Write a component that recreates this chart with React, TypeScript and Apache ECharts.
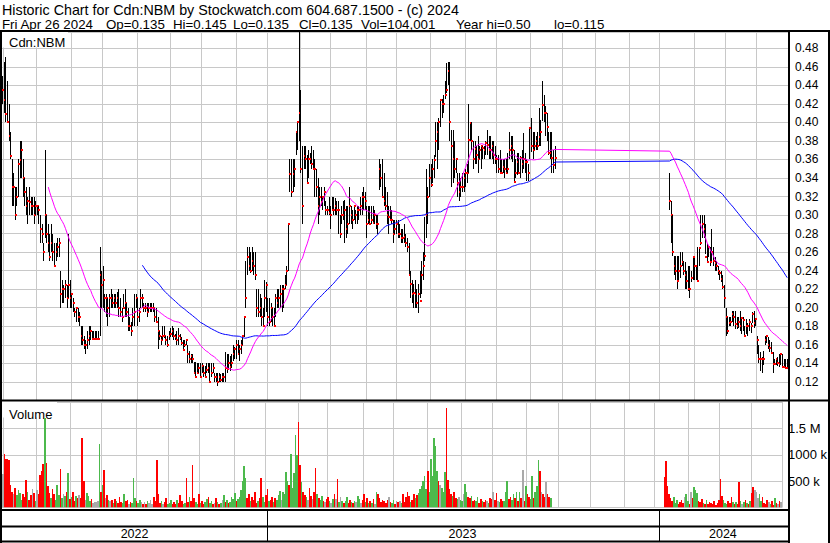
import React, { useEffect, useRef } from "react";
import * as echarts from "echarts";

const FONT = '"Liberation Sans", Arial, Helvetica, sans-serif';

// ---- calendar (trading days of the TSX-V, weekdays minus market holidays)
const FIRST_DAY = "2022-04-29";
const LAST_DAY = "2024-04-26";
const MARKET_HOLIDAYS = [
  "2022-05-23", "2022-07-01", "2022-08-01", "2022-09-05", "2022-10-10", "2022-12-26", "2022-12-27",
  "2023-01-02", "2023-02-20", "2023-04-07", "2023-05-22", "2023-07-03", "2023-08-07", "2023-09-04",
  "2023-10-09", "2023-12-25", "2023-12-26", "2024-01-01", "2024-02-19", "2024-03-29",
];

// ---- trading segment A (before the halt)
const SEGMENT_A_START = "2022-04-29";
const highA = [
  .45,.465,.47,.445,.42,.39,.36,.345,.33,.33,
  .36,.38,.38,.36,.34,.33,.32,.33,.32,.32,
  .32,.315,.31,.31,.30,.29,.27,.37,.30,.29,
  .28,.29,.28,.27,.27,.275,.275,.24,.23,.225,
  .23,.225,.28,.23,.215,.21,.20,.20,.20,.195,
  .18,.18,.17,.165,.175,.18,.18,.175,.175,.175,
  .175,.175,.265,.24,.245,.215,.215,.21,.215,.22,
  .215,.215,.215,.217,.22,.21,.20,.215,.22,.205,
  .20,.19,.185,.20,.215,.215,.21,.20,.22,.215,
  .205,.205,.205,.205,.205,.205,.205,.20,.20,.19,
  .175,.17,.18,.18,.17,.17,.175,.178,.18,.178,
  .172,.175,.178,.172,.168,.165,.165,.165,.16,.153,
  .15,.15,.141,.141,.14,.14,.14,.14,.137,.137,
  .14,.14,.14,.14,.14,.13,.13,.13,.13,.128,
  .13,.13,.152,.15,.15,.148,.15,.16,.158,.165,
  .165,.16,.165,.17,.19,.25,.265,.266,.26,.266,
  .26,.26,.22,.22,.215,.21,.20,.23,.228,.21,
  .21,.205,.20,.20,.215,.22,.22,.225,.225,.225,
  .235,.245,.29,.36,.36,.36,.36,.39,.40,.50,
  .435,.375,.375,.375,.365,.37,.367,.375,.37,.36,
  .35,.34,.33,.33,.32,.33,.315,.31,.32,.31,
  .32,.32,.318,.315,.315,.30,.31,.315,.316,.31,
  .31,.33,.31,.305,.31,.305,.31,.31,.32,.325,
  .33,.325,.31,.31,.31,.31,.31,.305,.30,.30,
  .36,.355,.36,.345,.33,.325,.31,.31,.305,.295,
  .295,.295,.295,.29,.285,.285,.29,.28,.275,.27,
  .24,.23,.226,.23,.22,.226,.24,.25,.26,.298,
  .35,.33,.355,.355,.36,.365,.40,.40,.405,.425,
  .425,.43,.445,.464,.465,.465,.392,.392,.38,.36,
  .345,.345,.34,.345,.345,.35,.355,.42,.40,.40,
  .38,.38,.375,.385,.375,.375,.375,.375,.38,.392,
  .385,.385,.38,.38,.375,.365,.365,.37,.36,.36,
  .36,.36,.367,.39,.385,.385,.37,.36,.367,.367,
  .364,.37,.388,.367,.36,.355,.395,.405,.39,.39,
  .385,.39,.415,.403,.445,.43,.418,.41,.39,.39,
  .39,.37,.375,
];
const lowA = [
  .42,.41,.40,.40,.38,.36,.31,.31,.295,.31,
  .32,.34,.34,.32,.31,.30,.29,.30,.30,.30,
  .29,.30,.30,.29,.27,.27,.25,.275,.27,.26,
  .25,.26,.25,.245,.25,.255,.255,.20,.205,.205,
  .21,.20,.21,.20,.20,.195,.19,.185,.185,.18,
  .16,.16,.155,.15,.155,.16,.165,.165,.165,.165,
  .165,.165,.17,.20,.20,.195,.19,.18,.19,.20,
  .20,.20,.20,.20,.19,.19,.185,.20,.19,.19,
  .175,.175,.17,.18,.18,.20,.18,.185,.20,.20,
  .195,.195,.19,.195,.195,.195,.195,.185,.184,.155,
  .165,.16,.165,.167,.16,.158,.165,.168,.168,.165,
  .165,.16,.16,.165,.16,.154,.158,.16,.14,.14,
  .14,.14,.128,.125,.13,.13,.125,.13,.125,.125,
  .13,.13,.12,.125,.13,.12,.12,.115,.12,.12,
  .12,.12,.12,.13,.135,.132,.135,.143,.145,.145,
  .15,.143,.15,.16,.168,.20,.235,.24,.238,.24,
  .235,.23,.19,.19,.19,.18,.18,.19,.195,.18,
  .18,.185,.18,.18,.19,.20,.20,.20,.195,.20,
  .22,.225,.24,.325,.32,.325,.33,.365,.37,.38,
  .345,.29,.35,.35,.335,.34,.355,.35,.35,.32,
  .32,.29,.30,.31,.305,.31,.30,.30,.30,.285,
  .305,.30,.30,.30,.28,.275,.29,.295,.27,.275,
  .28,.29,.29,.285,.295,.29,.29,.295,.30,.30,
  .305,.305,.275,.29,.29,.29,.29,.29,.285,.28,
  .327,.33,.32,.31,.305,.29,.28,.295,.29,.27,
  .28,.28,.275,.275,.27,.27,.27,.265,.26,.235,
  .21,.205,.20,.20,.20,.194,.21,.215,.23,.25,
  .275,.29,.32,.33,.335,.34,.363,.35,.37,.395,
  .405,.41,.425,.432,.44,.38,.33,.335,.34,.345,
  .32,.315,.32,.325,.325,.33,.335,.345,.38,.37,
  .35,.355,.355,.345,.36,.35,.36,.36,.365,.365,
  .36,.36,.36,.355,.355,.345,.345,.345,.345,.345,
  .34,.345,.345,.36,.36,.357,.336,.34,.343,.345,
  .34,.345,.35,.345,.337,.337,.36,.368,.36,.37,
  .37,.37,.375,.375,.402,.40,.385,.38,.365,.36,
  .345,.345,.35,
];
const closeA = [
  .435,.424,.409,.40,.385,.364,.33,.33,.30,.32,
  .355,.359,.37,.34,.325,.31,.315,.314,.31,.31,
  .30,.31,.31,.305,.285,.28,.26,.30,.28,.27,
  .255,.27,.26,.245,.26,.265,.27,.215,.22,.22,
  .225,.21,.225,.21,.215,.205,.195,.20,.19,.19,
  .17,.165,.16,.16,.165,.17,.175,.166,.166,.166,
  .166,.166,.235,.225,.23,.21,.21,.20,.21,.21,
  .205,.21,.205,.21,.20,.195,.19,.20,.205,.195,
  .18,.18,.175,.19,.195,.21,.19,.195,.21,.21,
  .20,.20,.195,.20,.20,.20,.20,.19,.185,.175,
  .17,.165,.17,.17,.165,.16,.17,.172,.175,.17,
  .168,.165,.17,.167,.162,.154,.16,.165,.15,.145,
  .148,.145,.13,.125,.13,.135,.125,.137,.13,.125,
  .133,.135,.12,.13,.135,.125,.125,.12,.125,.122,
  .125,.125,.135,.134,.14,.136,.14,.15,.155,.16,
  .15,.155,.16,.169,.19,.21,.255,.245,.24,.25,
  .245,.235,.20,.195,.20,.19,.18,.21,.224,.19,
  .185,.20,.19,.18,.21,.205,.21,.215,.22,.22,
  .225,.24,.29,.344,.325,.344,.35,.39,.40,.41,
  .35,.31,.364,.36,.335,.36,.36,.355,.35,.35,
  .33,.31,.32,.314,.32,.325,.305,.305,.302,.30,
  .305,.305,.31,.305,.305,.28,.30,.30,.305,.285,
  .29,.31,.30,.295,.31,.30,.305,.305,.31,.32,
  .32,.315,.29,.295,.29,.295,.291,.30,.29,.29,
  .35,.34,.32,.315,.31,.30,.298,.295,.295,.28,
  .285,.29,.28,.28,.275,.275,.276,.27,.265,.235,
  .226,.215,.216,.215,.205,.215,.207,.235,.245,.256,
  .30,.32,.34,.332,.35,.359,.38,.39,.40,.424,
  .42,.42,.43,.435,.455,.40,.374,.36,.35,.36,
  .335,.325,.33,.33,.34,.345,.345,.381,.399,.38,
  .36,.371,.365,.36,.37,.375,.372,.37,.378,.376,
  .37,.37,.375,.365,.36,.36,.35,.345,.345,.352,
  .35,.345,.35,.37,.375,.37,.336,.345,.357,.345,
  .362,.355,.36,.357,.357,.345,.394,.375,.37,.375,
  .38,.375,.384,.39,.419,.41,.41,.395,.367,.367,
  .362,.354,.362,
];
// volume in thousands of shares
const volumeA = [
  640,1020,930,930,900,420,300,260,380,240,
  330,280,150,250,200,520,300,140,230,350,
  280,120,330,260,620,700,830,1700,850,400,
  280,180,350,250,150,420,230,730,180,260,
  220,300,660,160,200,300,120,210,180,240,
  180,1330,510,150,280,220,130,160,90,110,
  100,120,1200,300,420,710,180,230,150,120,
  140,90,160,120,80,200,110,90,260,130,
  150,70,110,90,560,190,120,80,140,100,
  60,110,70,130,90,150,60,200,120,900,
  260,80,120,60,100,180,70,90,140,60,
  110,70,150,80,240,130,60,90,570,110,
  200,120,810,180,100,70,260,90,130,60,
  100,160,200,80,120,60,90,180,110,70,
  90,150,240,110,150,90,100,200,170,280,
  120,160,200,330,500,790,560,180,250,120,
  200,150,300,90,120,180,570,200,100,240,
  360,120,150,200,100,180,140,230,320,150,
  300,250,680,500,420,1015,380,650,1383,1000,
  1630,810,480,300,240,200,150,380,220,160,
  290,750,260,180,140,220,120,100,160,200,
  130,90,170,250,160,540,110,200,130,90,
  120,200,90,150,110,80,130,100,210,160,
  90,140,250,100,180,80,120,90,160,60,
  300,250,190,100,150,120,90,140,200,110,
  80,150,70,120,100,130,90,260,110,200,
  300,220,100,150,250,180,240,280,350,400,
  500,600,350,700,300,920,600,1330,1180,700,
  500,420,380,300,680,1900,520,350,250,220,
  300,180,160,200,150,120,260,450,300,200,
  180,220,130,150,120,200,90,160,130,100,
  150,120,90,180,160,300,140,280,120,100,
  160,130,120,300,510,160,200,140,260,180,
  290,120,300,180,710,130,400,250,200,160,
  600,180,300,400,900,700,300,250,200,490,
  250,200,180,
];

// ---- trading segment B (after the halt)
const SEGMENT_B_START = "2024-01-10";
const highB = [
  .345,.315,.30,.256,.256,.256,.256,.26,.26,.25,
  .249,.24,.245,.245,.24,.255,.254,.245,.265,.266,
  .30,.30,.30,.29,.27,.266,.266,.285,.266,.255,
  .25,.245,.24,.24,.235,.225,.20,.19,.19,.19,
  .196,.196,.197,.19,.19,.197,.19,.19,.18,.188,
  .183,.188,.183,.195,.197,.188,.17,.16,.152,.147,
  .153,.17,.17,.168,.165,.163,.152,.145,.145,.147,
  .15,.15,.15,.145,.145,.145,
];
const lowB = [
  .305,.27,.256,.235,.23,.22,.23,.232,.245,.235,
  .22,.22,.218,.21,.228,.23,.23,.23,.228,.245,
  .268,.275,.275,.258,.248,.255,.245,.25,.245,.24,
  .24,.235,.23,.228,.22,.20,.17,.172,.18,.18,
  .185,.18,.177,.177,.178,.175,.172,.175,.17,.172,
  .17,.175,.173,.183,.178,.18,.15,.14,.132,.13,
  .138,.16,.162,.155,.152,.15,.13,.138,.138,.137,
  .136,.138,.136,.136,.135,.135,
];
const closeB = [
  .315,.30,.26,.245,.24,.229,.24,.245,.249,.24,
  .235,.229,.22,.22,.232,.255,.245,.245,.229,.264,
  .27,.29,.285,.255,.249,.265,.249,.26,.25,.248,
  .245,.24,.238,.231,.222,.21,.19,.175,.184,.185,
  .193,.19,.182,.18,.185,.18,.189,.187,.17,.18,
  .18,.185,.18,.193,.183,.188,.165,.145,.145,.145,
  .145,.165,.17,.16,.156,.151,.139,.139,.145,.14,
  .139,.15,.136,.136,.135,.135,
];
const volumeB = [
  590,888,410,250,180,120,200,90,150,60,
  100,140,80,200,260,130,70,300,180,390,
  330,280,120,100,160,90,60,140,70,110,
  80,60,120,50,90,150,550,220,140,90,
  60,130,80,200,110,70,100,70,485,120,
  60,100,150,90,60,130,280,390,330,300,
  180,260,120,200,90,60,150,100,70,130,
  50,180,90,60,120,104,
];

const MA_SHORT = 30;
const MA_LONG = 90;

const HEADER_LINE_1 = "Historic Chart for Cdn:NBM by Stockwatch.com 604.687.1500 - (c) 2024";
const HEADER_FIELDS = ["Fri Apr 26 2024", "Op=0.135", "Hi=0.145", "Lo=0.135", "Cl=0.135", "Vol=104,001", "Year hi=0.50", "lo=0.115"];
const HEADER_FIELD_X = [2, 106, 173, 233, 299, 361, 456, 554];

const VOLUME_LABELS: Record<number, string> = { 500: "500 k", 1000: "1000 k", 1500: "1.5 M" };

const COLORS = {
  grid: "#c8c8c8",
  bar: "#000000",
  close: "#ff0000",
  maShort: "#ff00ff",
  maLong: "#0000ff",
  up: "#4cb94c",
  down: "#ff0000",
  flat: "#a9a9a9",
};

function tradingDays(): string[] {
  const hol = new Set(MARKET_HOLIDAYS);
  const out: string[] = [];
  const d = new Date(FIRST_DAY + "T00:00:00Z");
  const end = new Date(LAST_DAY + "T00:00:00Z");
  while (d.getTime() <= end.getTime()) {
    const dow = d.getUTCDay();
    const s = d.toISOString().slice(0, 10);
    if (dow !== 0 && dow !== 6 && !hol.has(s)) out.push(s);
    d.setUTCDate(d.getUTCDate() + 1);
  }
  return out;
}

type Rec = { idx: number; h: number; l: number; c: number; v: number };

function buildOption() {
  const days = tradingDays();
  const N = days.length;
  const recs: Rec[] = [];
  const a0 = days.indexOf(SEGMENT_A_START);
  closeA.forEach((c, k) => recs.push({ idx: a0 + k, h: highA[k], l: lowA[k], c, v: volumeA[k] }));
  const b0 = days.indexOf(SEGMENT_B_START);
  closeB.forEach((c, k) => recs.push({ idx: b0 + k, h: highB[k], l: lowB[k], c, v: volumeB[k] }));

  const ma = (n: number) => {
    const out: (number | null)[] = new Array(N).fill(null);
    let sum = 0;
    recs.forEach((r, k) => {
      sum += r.c;
      if (k >= n) sum -= recs[k - n].c;
      if (k >= n - 1) out[r.idx] = +(sum / n).toFixed(4);
    });
    return out;
  };

  // direction of the day's close vs previous record: 1 up, -1 down, 0 unchanged
  const volRows = recs.map((r, k) => {
    const prev = k > 0 ? recs[k - 1].c : r.c;
    return [r.idx, r.v, r.c > prev ? 1 : r.c < prev ? -1 : 0];
  });
  const dirColor = (d: number) => (d > 0 ? COLORS.up : d < 0 ? COLORS.down : COLORS.flat);

  const monthStart = days.map((d, i) => i > 0 && d.slice(0, 7) !== days[i - 1].slice(0, 7));
  const yearStart = days.map((d, i) => i > 0 && d.slice(0, 4) !== days[i - 1].slice(0, 4));
  const yearMid = new Array(N).fill(false);
  const years = Array.from(new Set(days.map((d) => d.slice(0, 4))));
  years.forEach((y) => {
    const first = days.findIndex((d) => d.startsWith(y));
    let last = first;
    days.forEach((d, i) => { if (d.startsWith(y)) last = i; });
    yearMid[Math.floor((first + last) / 2)] = true;
  });

  const baseX = {
    type: "category",
    data: days,
    boundaryGap: true,
    axisLine: { show: false },
    axisTick: { show: false },
    axisLabel: { show: false },
  };

  const txt = (text: string, x: number, y: number, size: number, z = 20) => ({
    type: "text",
    x,
    y,
    z,
    style: { text, fontSize: size, fontFamily: FONT, fill: "#000", verticalAlign: "middle" },
  });
  const box = (x: number, y: number, w: number, h: number, fill = "#000", z = 20) => ({
    type: "rect",
    z,
    shape: { x, y, width: w, height: h },
    style: { fill },
  });

  return {
    animation: false,
    backgroundColor: "#ffffff",
    grid: [
      { left: 2, top: 32, width: 786, height: 368.4 },
      { left: 2, top: 402, width: 786, height: 105.5 },
      { left: 2, top: 511, width: 786, height: 30 },
    ],
    xAxis: [
      {
        ...baseX,
        gridIndex: 0,
        splitLine: { show: true, interval: (i: number) => monthStart[i], lineStyle: { color: COLORS.grid, width: 1 } },
      },
      {
        ...baseX,
        gridIndex: 1,
        splitLine: { show: true, interval: (i: number) => monthStart[i], lineStyle: { color: COLORS.grid, width: 1 } },
      },
      {
        ...baseX,
        gridIndex: 2,
        axisLabel: {
          show: true,
          inside: true,
          margin: 1,
          interval: (i: number) => yearMid[i],
          formatter: (v: string) => v.slice(0, 4),
          fontSize: 12.5,
          fontFamily: FONT,
          color: "#000",
        },
        splitLine: { show: true, interval: (i: number) => yearStart[i], lineStyle: { color: "#000", width: 1 } },
      },
    ],
    yAxis: [
      {
        type: "value",
        gridIndex: 0,
        position: "right",
        min: 0.1,
        max: 0.4975,
        interval: 0.02,
        axisLine: { show: false },
        axisTick: { show: false },
        axisLabel: {
          formatter: (v: number) => v.toFixed(2),
          showMinLabel: false,
          showMaxLabel: false,
          fontSize: 12,
          fontFamily: FONT,
          color: "#000",
          margin: 7,
        },
        splitLine: { lineStyle: { color: COLORS.grid, width: 1 } },
      },
      {
        type: "value",
        gridIndex: 1,
        position: "right",
        min: 0,
        max: 2008,
        interval: 500,
        axisLine: { show: false },
        axisTick: { show: false },
        axisLabel: {
          formatter: (v: number) => VOLUME_LABELS[v] ?? "",
          showMinLabel: false,
          showMaxLabel: false,
          fontSize: 13,
          fontFamily: FONT,
          color: "#000",
          margin: 6,
        },
        splitLine: { lineStyle: { color: COLORS.grid, width: 1 } },
      },
      { type: "value", gridIndex: 2, show: false },
    ],
    series: [
      {
        type: "custom",
        xAxisIndex: 0,
        yAxisIndex: 0,
        clip: true,
        z: 3,
        data: recs.map((r) => [r.idx, r.h, r.l, r.c]),
        encode: { x: 0, y: [1, 2, 3] },
        renderItem: (_p: any, api: any) => {
          const i = api.value(0);
          const top = api.coord([i, api.value(1)]);
          const bot = api.coord([i, api.value(2)]);
          const cl = api.coord([i, api.value(3)]);
          const bx = Math.round(top[0] - 0.5);
          const y0 = Math.round(top[1]);
          const y1 = Math.round(bot[1]);
          return {
            type: "group",
            children: [
              {
                type: "rect",
                shape: { x: bx, y: y0, width: 1, height: Math.max(1, y1 - y0) },
                style: { fill: COLORS.bar },
              },
              {
                type: "rect",
                shape: { x: bx, y: Math.round(cl[1]) - 1, width: 2, height: 2 },
                style: { fill: COLORS.close },
              },
            ],
          };
        },
      },
      {
        type: "line",
        xAxisIndex: 0,
        yAxisIndex: 0,
        z: 4,
        data: ma(MA_LONG),
        connectNulls: true,
        showSymbol: false,
        symbol: "none",
        silent: true,
        lineStyle: { color: COLORS.maLong, width: 1 },
      },
      {
        type: "line",
        xAxisIndex: 0,
        yAxisIndex: 0,
        z: 4,
        data: ma(MA_SHORT),
        connectNulls: true,
        showSymbol: false,
        symbol: "none",
        silent: true,
        lineStyle: { color: COLORS.maShort, width: 1 },
      },
      {
        type: "custom",
        xAxisIndex: 1,
        yAxisIndex: 1,
        clip: true,
        z: 3,
        data: volRows,
        encode: { x: 0, y: 1 },
        renderItem: (_p: any, api: any) => {
          const i = api.value(0);
          const p = api.coord([i, api.value(1)]);
          const base = api.coord([i, 0]);
          const w = api.size([1, 0])[0];
          const x0 = Math.round(p[0] - w / 2);
          const x1 = Math.round(p[0] + w / 2);
          const yt = Math.round(p[1]);
          return {
            type: "rect",
            shape: { x: x0, y: yt, width: Math.max(1, x1 - x0), height: Math.max(1, base[1] - yt) },
            style: { fill: dirColor(api.value(2)) },
          };
        },
      },
    ],
    graphic: [
      box(2, 32, 66, 15.5, "#fff", 1),
      txt("Cdn:NBM", 9, 42, 13, 1),
      box(2, 402, 55, 15.5, "#fff", 1),
      txt("Volume", 9, 414, 13, 1),
      txt(HEADER_LINE_1, 2, 9.5, 14.3),
      ...HEADER_FIELDS.map((t, k) => txt(t, HEADER_FIELD_X[k], 24.5, 13.3)),
      box(0, 30, 830, 2),
      box(0, 30, 2, 513),
      box(788, 30, 2, 513),
      box(828, 30, 2, 513),
      box(0, 399.5, 830, 2),
      box(0, 509, 790, 2),
      box(0, 525.5, 790, 2),
      box(0, 540.5, 790, 2),
    ],
  };
}

export default function App() {
  const ref = useRef<HTMLDivElement>(null);
  useEffect(() => {
    if (!ref.current) return;
    const chart = echarts.init(ref.current, undefined, { renderer: "svg" });
    chart.setOption(buildOption() as any);
    return () => chart.dispose();
  }, []);
  return (
    <div
      ref={ref}
      style={{ position: "absolute", left: 0, top: 0, width: 830, height: 543, background: "#fff" }}
    />
  );
}
